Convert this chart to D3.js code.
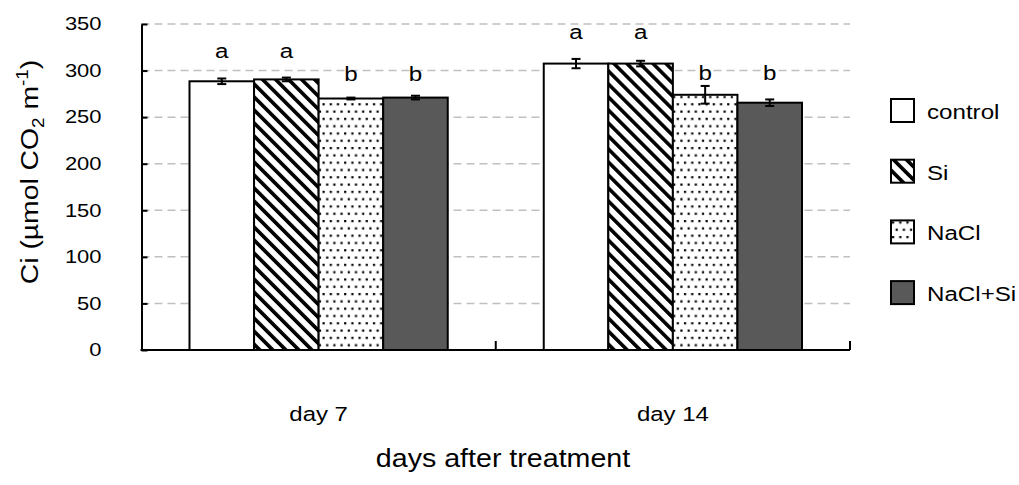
<!DOCTYPE html>
<html>
<head>
    <meta charset="utf-8">
    <title>Ci</title>
    <script src="https://d3js.org/d3.v7.min.js"></script>
    <style>
        body { margin: 0; background: #fff; }
        text { font-family: "Liberation Sans", Arial, sans-serif; fill: #000; }
    </style>
</head>
<body>
    <svg width="1019" height="485"></svg>

    <script>
        // data
        var days = ["day 7", "day 14"];
        var treatments = ["control", "Si", "NaCl", "NaCl+Si"];
        var ciDay7 = [288.5, 290.5, 270, 271];
        var ciDay14 = [307.5, 307.5, 274, 265.5];
        var errDay7 = [3, 2, 1, 2];
        var errDay14 = [5, 3, 9.5, 3.5];
        var letters7 = ["a", "a", "b", "b"];
        var letters14 = ["a", "a", "b", "b"];
        var letterPos7 = [314, 314, 289, 289];   // baseline of the letters, in axis units
        var letterPos14 = [333.5, 333.5, 290, 290];
        var yTicks = [0, 50, 100, 150, 200, 250, 300, 350];

        var values = [ciDay7, ciDay14];
        var errs = [errDay7, errDay14];
        var lets = [letters7, letters14];
        var letPos = [letterPos7, letterPos14];

        var svg = d3.select("svg");
        var mLeft = 141.5, mRight = 850, mTop = 24, mBottom = 350;

        // the original font is wider than Liberation Sans, so text is stretched a bit
        function place(sel, x, y, sx, rot) {
            sel.attr("transform", "translate(" + x + "," + y + ")" + (rot ? " rotate(" + rot + ")" : "") + " scale(" + sx + ",1)");
            return sel;
        }

        var x0 = d3.scaleBand().domain(days).range([mLeft, mRight]);
        var x1 = d3.scaleBand().domain(treatments).range([48, x0.bandwidth() - 48]);
        var y = d3.scaleLinear().domain([0, 350]).range([mBottom, mTop]);

        // patterns
        var defs = svg.append("defs");
        var hatch = defs.append("pattern")
            .attr("id", "hatch")
            .attr("patternUnits", "userSpaceOnUse")
            .attr("width", 9.2).attr("height", 9.2)
            .attr("patternTransform", "rotate(-45)");
        hatch.append("rect").attr("width", 9.2).attr("height", 9.2).attr("fill", "#fff");
        hatch.append("rect").attr("width", 3.6).attr("height", 9.2).attr("fill", "#000");

        var dots = defs.append("pattern")
            .attr("id", "dots")
            .attr("patternUnits", "userSpaceOnUse")
            .attr("width", 14.4).attr("height", 14.6);
        dots.append("rect").attr("width", 14.4).attr("height", 14.6).attr("fill", "#fff");
        [[1, 1], [8.2, 1], [4.6, 8.3], [11.8, 8.3]].forEach(function (p) {
            dots.append("rect").attr("x", p[0]).attr("y", p[1])
                .attr("width", 2.2).attr("height", 2.2).attr("fill", "#000");
        });

        var fills = {"control": "#fff", "Si": "url(#hatch)", "NaCl": "url(#dots)", "NaCl+Si": "#595959"};

        // gridlines
        svg.append("g")
            .selectAll("line")
            .data(yTicks.filter(function (d) { return d > 0; }))
            .enter()
            .append("line")
            .attr("x1", mLeft).attr("x2", mRight)
            .attr("y1", function (d) { return y(d); })
            .attr("y2", function (d) { return y(d); })
            .attr("stroke", "#c0c0c0")
            .attr("stroke-width", 1.5)
            .attr("stroke-dasharray", "8,5");

        // bars
        var groups = svg.append("g")
            .selectAll("g")
            .data(days)
            .enter()
            .append("g")
            .attr("transform", function (d) { return "translate(" + x0(d) + ",0)"; });

        groups.each(function (day, i) {
            var g = d3.select(this);
            var rows = treatments.map(function (t, j) {
                return {t: t, v: values[i][j], e: errs[i][j], l: lets[i][j], lp: letPos[i][j]};
            });
            g.selectAll("rect")
                .data(rows)
                .enter()
                .append("rect")
                .attr("x", function (d) { return x1(d.t); })
                .attr("y", function (d) { return y(d.v); })
                .attr("width", x1.bandwidth())
                .attr("height", function (d) { return y(0) - y(d.v); })
                .attr("fill", function (d) { return fills[d.t]; })
                .attr("stroke", "#000")
                .attr("stroke-width", 2);

            var eb = g.selectAll(".err")
                .data(rows)
                .enter()
                .append("g")
                .attr("class", "err")
                .attr("stroke", "#000")
                .attr("stroke-width", 2);
            eb.append("line")
                .attr("x1", function (d) { return x1(d.t) + x1.bandwidth() / 2; })
                .attr("x2", function (d) { return x1(d.t) + x1.bandwidth() / 2; })
                .attr("y1", function (d) { return y(d.v + d.e); })
                .attr("y2", function (d) { return y(d.v - d.e); });
            [1, -1].forEach(function (s) {
                eb.append("line")
                    .attr("x1", function (d) { return x1(d.t) + x1.bandwidth() / 2 - 4.5; })
                    .attr("x2", function (d) { return x1(d.t) + x1.bandwidth() / 2 + 4.5; })
                    .attr("y1", function (d) { return y(d.v + s * d.e); })
                    .attr("y2", function (d) { return y(d.v + s * d.e); });
            });

            g.selectAll(".sig")
                .data(rows)
                .enter()
                .append("text")
                .attr("class", "sig")
                .attr("transform", function (d) {
                    return "translate(" + (x1(d.t) + x1.bandwidth() / 2) + "," + y(d.lp) + ") scale(1.15,1)";
                })
                .attr("text-anchor", "middle")
                .style("font-size", "21px")
                .text(function (d) { return d.l; });
        });

        // y axis
        var yAxis = d3.axisLeft(y)
            .tickValues(yTicks)
            .tickSizeInner(-6)
            .tickSizeOuter(0)
            .tickPadding(40);
        var ya = svg.append("g")
            .attr("transform", "translate(" + mLeft + ",0)")
            .call(yAxis);
        ya.select(".domain").attr("stroke-width", 2);
        ya.selectAll(".tick line").attr("stroke-width", 2);
        ya.selectAll(".tick text")
            .attr("x", 0)
            .attr("transform", "translate(-40,0) scale(1.22,1)")
            .style("font-family", "Liberation Sans, Arial, sans-serif")
            .style("font-size", "18px");

        // x axis
        var xa = svg.append("g");
        xa.append("line")
            .attr("x1", mLeft - 1).attr("x2", mRight)
            .attr("y1", y(0)).attr("y2", y(0))
            .attr("stroke", "#000").attr("stroke-width", 2);
        xa.selectAll(".xt")
            .data(days.map(function (d) { return x0(d) + x0.bandwidth(); }))
            .enter()
            .append("line")
            .attr("x1", function (d) { return d; })
            .attr("x2", function (d) { return d; })
            .attr("y1", y(0)).attr("y2", y(0) - 9)
            .attr("stroke", "#000").attr("stroke-width", 2);
        xa.selectAll(".xl")
            .data(days)
            .enter()
            .append("text")
            .attr("transform", function (d) {
                return "translate(" + (x0(d) + x0.bandwidth() / 2) + ",421) scale(1.17,1)";
            })
            .attr("text-anchor", "middle")
            .style("font-size", "20.5px")
            .text(function (d) { return d; });

        place(svg.append("text"), 503, 467, 1.1)
            .attr("text-anchor", "middle")
            .style("font-size", "26px")
            .text("days after treatment");

        var yt = place(svg.append("text"), 38, 172, 1.18, -90)
            .attr("text-anchor", "middle")
            .style("font-size", "24px");
        yt.append("tspan").text("Ci (µmol CO");
        yt.append("tspan").attr("dy", 6).style("font-size", "16px").text("2");
        yt.append("tspan").attr("dy", -6).text(" m");
        yt.append("tspan").attr("dy", -10).style("font-size", "16px").text("-1");
        yt.append("tspan").attr("dy", 10).text(")");

        // legend
        var lg = svg.append("g")
            .selectAll("g")
            .data(treatments)
            .enter()
            .append("g")
            .attr("transform", function (d, i) { return "translate(891," + (99 + i * 60.7) + ")"; });
        lg.append("rect")
            .attr("width", 23).attr("height", 23)
            .attr("fill", function (d) { return fills[d]; })
            .attr("stroke", "#000").attr("stroke-width", 2);
        lg.append("text")
            .attr("transform", "translate(36,20) scale(1.15,1)")
            .style("font-size", "21px")
            .text(function (d) { return d; });
    </script>
</body>
</html>
